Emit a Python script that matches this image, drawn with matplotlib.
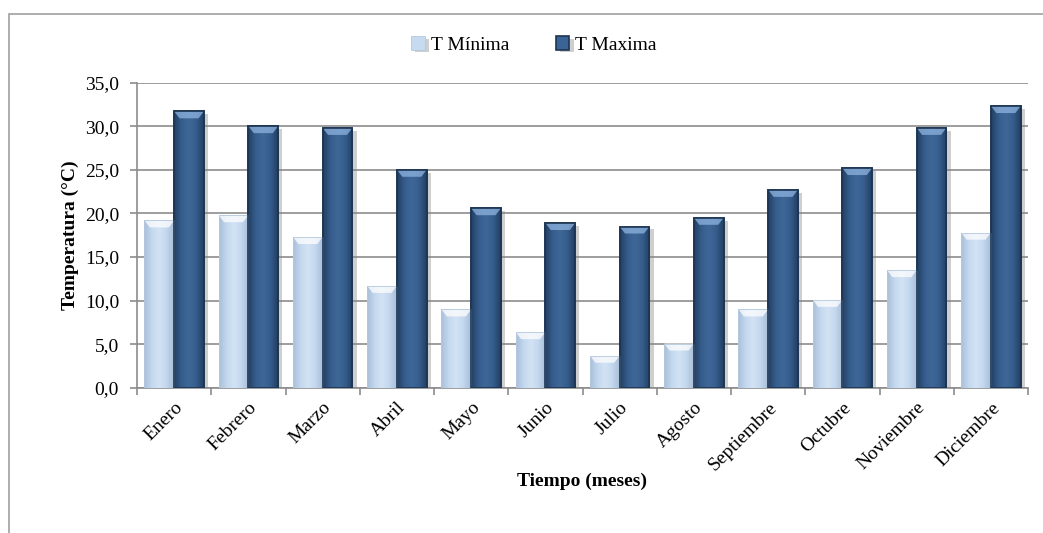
import numpy as np
import matplotlib.pyplot as plt
from matplotlib.patches import Rectangle
from matplotlib.ticker import FuncFormatter, MultipleLocator
import matplotlib.patheffects as pe

plt.rcParams['font.family'] = ['Liberation Serif', 'DejaVu Serif']

meses = ['Enero', 'Febrero', 'Marzo', 'Abril', 'Mayo', 'Junio', 'Julio',
         'Agosto', 'Septiembre', 'Octubre', 'Noviembre', 'Diciembre']
t_min = [19.2, 19.8, 17.3, 11.7, 9.0, 6.4, 3.7, 5.1, 9.0, 10.1, 13.5, 17.8]
t_max = [31.7, 30.0, 29.8, 25.0, 20.6, 18.9, 18.5, 19.5, 22.7, 25.2, 29.8, 32.3]

fig = plt.figure(figsize=(10.43, 5.33), dpi=100)
ax = fig.add_axes([0.1314, 0.2720, 0.8543, 0.5732])

# chart frame
fig.patches.append(Rectangle((9 / 1043, -0.1), 1.2, 1 - 14 / 533 + 0.1,
                             transform=fig.transFigure, fill=False,
                             edgecolor='#a0a0a0', linewidth=1.2))

x = np.arange(len(meses))
w = 0.4


def shade(bars, edge, mid, face, bevel, bevel_alpha):
    # horizontal gradient inside each bar, darker at the sides
    cmap = plt.matplotlib.colors.LinearSegmentedColormap.from_list(
        'g', [edge, mid, face, mid, edge])
    grad = np.linspace(0, 1, 64).reshape(1, -1)
    for b in bars:
        x0, y0 = b.get_x(), b.get_y()
        bw, bh = b.get_width(), b.get_height()
        im = ax.imshow(grad, cmap=cmap, extent=(x0, x0 + bw, y0, y0 + bh),
                       aspect='auto', zorder=3, interpolation='bicubic')
        im.set_clip_path(b)
        # bevelled top
        ax.fill([x0, x0 + bw, x0 + bw * 0.82, x0 + bw * 0.18],
                [y0 + bh, y0 + bh, y0 + bh - 0.8, y0 + bh - 0.8],
                color=bevel, alpha=bevel_alpha, zorder=4, linewidth=0)


b1 = ax.bar(x - w / 2, t_min, w, color='#c6daf0', edgecolor='#b5c8de',
            linewidth=0.6, zorder=3, label='T Mínima')
b2 = ax.bar(x + w / 2, t_max, w, color='#3b6496', edgecolor='#1c3552',
            linewidth=1.2, zorder=3, label='T Maxima')
for b in list(b1) + list(b2):
    b.set_path_effects([pe.SimplePatchShadow(offset=(3, -2), shadow_rgbFace='#888888',
                                             alpha=0.4), pe.Normal()])

shade(b1, '#a9bfd9', '#c3d7ee', '#d3e3f5', 'white', 0.75)
shade(b2, '#223f63', '#365d8c', '#3e6899', '#8fb4e0', 0.75)
for b in list(b1) + list(b2):
    ax.add_patch(Rectangle((b.get_x(), b.get_y()), b.get_width(), b.get_height(),
                           fill=False, edgecolor=b.get_edgecolor(),
                           linewidth=b.get_linewidth(), zorder=5))

ax.set_xlim(-0.5, len(meses) - 0.5)
ax.set_ylim(0, 35)
ax.yaxis.set_major_locator(MultipleLocator(5))
ax.yaxis.set_major_formatter(FuncFormatter(lambda v, p: f'{v:.1f}'.replace('.', ',')))
ax.grid(axis='y', color='#8c8c8c', linewidth=1.2, zorder=0)
ax.set_axisbelow(True)

ax.set_xticks(x)
ax.set_xticklabels(meses, rotation=45, ha='right', rotation_mode='anchor',
                   fontsize=14)
ax.tick_params(axis='x', length=0, pad=8)
ax.set_xticks(np.arange(len(meses) + 1) - 0.5, minor=True)
ax.tick_params(axis='x', which='minor', length=5, color='#8c8c8c', width=1.2)
ax.tick_params(axis='y', labelsize=14, length=5, color='#8c8c8c', width=1.2, pad=8)

for s in ['top', 'right']:
    ax.spines[s].set_visible(False)
for s in ['left', 'bottom']:
    ax.spines[s].set_color('#8c8c8c')
    ax.spines[s].set_linewidth(1.2)

ax.set_ylabel('Temperatura (°C)', fontsize=14, fontweight='bold', labelpad=4)
fig.text(0.558, 0.097, 'Tiempo (meses)', fontsize=14, fontweight='bold',
         ha='center', va='center')

leg = fig.legend(handles=[b1, b2], loc='center', bbox_to_anchor=(0.512, 0.916),
                 ncol=2, frameon=False, fontsize=14, handlelength=0.7,
                 handleheight=0.7, handletextpad=0.3, columnspacing=2.4)

fig.savefig('out.png', dpi=100)
